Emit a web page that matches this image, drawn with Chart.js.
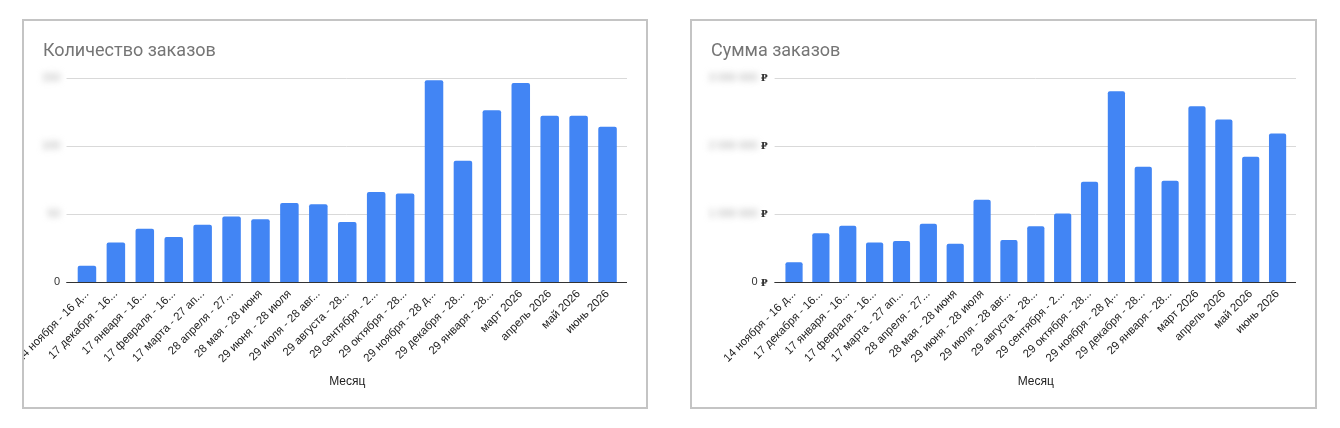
<!DOCTYPE html>
<html>
<head>
<meta charset="utf-8">
<script src="https://cdn.jsdelivr.net/npm/chart.js@4"></script>
<style>
    body { margin: 0; background: #fff; width: 1340px; height: 428px; position: relative; overflow: hidden; }
    .box { position: absolute; top: 19px; height: 386px; border: 2px solid #c4c4c4; background: #fff; }
    #box1 { left: 22px; width: 622px; }
    #box2 { left: 690px; width: 623px; }
    .box canvas { display: block; }
</style>
</head>
<body>
<div class="box" id="box1"><canvas id="countChart"></canvas></div>
<div class="box" id="box2"><canvas id="sumChart"></canvas></div>

<script>
const months = [
    '14 ноября - 16 д...', '17 декабря - 16...', '17 января - 16...', '17 февраля - 16...',
    '17 марта - 27 ап...', '28 апреля - 27...', '28 мая - 28 июня', '29 июня - 28 июля',
    '29 июля - 28 авг...', '29 августа - 28...', '29 сентября - 2...', '29 октября - 28...',
    '29 ноября - 28 д...', '29 декабря - 28...', '29 января - 28...', 'март 2026',
    'апрель 2026', 'май 2026', 'июнь 2026'
];

// количество заказов
const orderCounts = [12, 29, 39, 33, 42, 48, 46, 58, 57, 44, 66, 65, 148, 89, 126, 146, 122, 122, 114];

// сумма заказов, руб.
const orderSums = [
    290000, 715000, 826000, 578000, 600000, 855000, 563000, 1206000, 615000, 820000,
    1007000, 1470000, 2800000, 1690000, 1485000, 2580000, 2385000, 1840000, 2180000
];

const countTicks = [0, 50, 100, 150];
const sumTicks = [0, 1000000, 2000000, 3000000];

const BLUE = '#4285f4';
const FONT = '"Liberation Sans", Arial, sans-serif';

function formatRub(v) {
    return String(v).replace(/\B(?=(\d{3})+(?!\d))/g, ' ');
}

// линии сетки чуть шире области графика, как в Google Таблицах
const gridLines = {
    id: 'gridLines',
    beforeDatasetsDraw(chart) {
        const ctx = chart.ctx;
        const y = chart.scales.y;
        const a = chart.chartArea;
        ctx.save();
        y.ticks.forEach(t => {
            const py = Math.round(y.getPixelForValue(t.value)) + 0.5;
            ctx.strokeStyle = t.value === 0 ? '#333' : '#d9d9d9';
            ctx.lineWidth = 1;
            ctx.beginPath();
            ctx.moveTo(a.left - 6, py);
            ctx.lineTo(a.right + 5, py);
            ctx.stroke();
        });
        ctx.restore();
    },
    afterDatasetsDraw(chart) {
        // нулевая линия поверх столбцов
        const ctx = chart.ctx;
        const y = chart.scales.y;
        const a = chart.chartArea;
        const py = Math.round(y.getPixelForValue(0)) + 0.5;
        ctx.save();
        ctx.strokeStyle = '#333';
        ctx.beginPath();
        ctx.moveTo(a.left - 6, py);
        ctx.lineTo(a.right + 5, py);
        ctx.stroke();
        ctx.restore();
    }
};

// подписи оси Y: числа размыты, "0" и знак рубля чёткие
const blurTicks = {
    id: 'blurTicks',
    afterDraw(chart, args, opts) {
        const ctx = chart.ctx;
        const y = chart.scales.y;
        const right = y.right - opts.gap;
        ctx.save();
        ctx.font = '11px ' + FONT;
        ctx.textBaseline = 'middle';
        ctx.textAlign = 'right';
        y.ticks.forEach(t => {
            const py = y.getPixelForValue(t.value);
            let x = right;
            if (opts.currency) {
                ctx.fillStyle = '#333';
                ctx.font = 'bold 10px "DejaVu Serif", serif';
                ctx.fillText('₽', x, py + 1);
                ctx.font = '11px ' + FONT;
                x -= 10;
            }
            const txt = opts.currency ? formatRub(t.value) : String(t.value);
            if (t.value === 0) {
                ctx.fillStyle = '#333';
                ctx.filter = 'none';
            } else {
                ctx.fillStyle = '#a8a8a8';
                ctx.filter = 'blur(3px)';
            }
            ctx.fillText(txt, x, py);
            ctx.filter = 'none';
        });
        ctx.restore();
    }
};

function makeChart(id, title, data, ticks, yWidth, gap, currency) {
    const ctx = document.getElementById(id).getContext('2d');
    return new Chart(ctx, {
        type: 'bar',
        data: {
            labels: months,
            datasets: [{
                data: data,
                backgroundColor: BLUE,
                borderRadius: 2,
                categoryPercentage: 0.64,
                barPercentage: 1
            }]
        },
        options: {
            responsive: true,
            maintainAspectRatio: false,
            animation: false,
            layout: { padding: { left: 19, right: 24, top: 0, bottom: 0 } },
            plugins: {
                legend: { display: false },
                tooltip: { enabled: false },
                title: {
                    display: true,
                    text: title,
                    align: 'start',
                    color: '#757575',
                    font: { family: 'Roboto, Arial, sans-serif', size: 18, weight: 'normal' },
                    padding: { top: 20, bottom: 15 }
                },
                blurTicks: { currency: currency, gap: gap }
            },
            scales: {
                x: {
                    grid: { display: false, drawTicks: false },
                    border: { display: false },
                    ticks: {
                        autoSkip: false,
                        minRotation: 45,
                        maxRotation: 45,
                        padding: 5,
                        color: '#222',
                        font: { family: FONT, size: 11.5 }
                    },
                    title: {
                        display: true,
                        text: 'Месяц',
                        color: '#222',
                        font: { family: FONT, size: 12 },
                        padding: { top: 4, bottom: 18 }
                    },
                    afterFit: s => {
                        s.height = 125;
                        s.paddingLeft = 0;
                        s.paddingRight = 0;
                    }
                },
                y: {
                    min: ticks[0],
                    max: ticks[ticks.length - 1],
                    afterBuildTicks: s => { s.ticks = ticks.map(v => ({ value: v })); },
                    grid: { display: false, drawTicks: false },
                    border: { display: false },
                    ticks: { color: 'rgba(0,0,0,0)', font: { family: FONT, size: 11 } },
                    afterFit: s => { s.width = yWidth; }
                }
            }
        },
        plugins: [gridLines, blurTicks]
    });
}

makeChart('countChart', 'Количество заказов', orderCounts, countTicks, 29.5, 12.5, false);
makeChart('sumChart', 'Сумма заказов', orderSums, sumTicks, 69.6, 13, true);
</script>
</body>
</html>
